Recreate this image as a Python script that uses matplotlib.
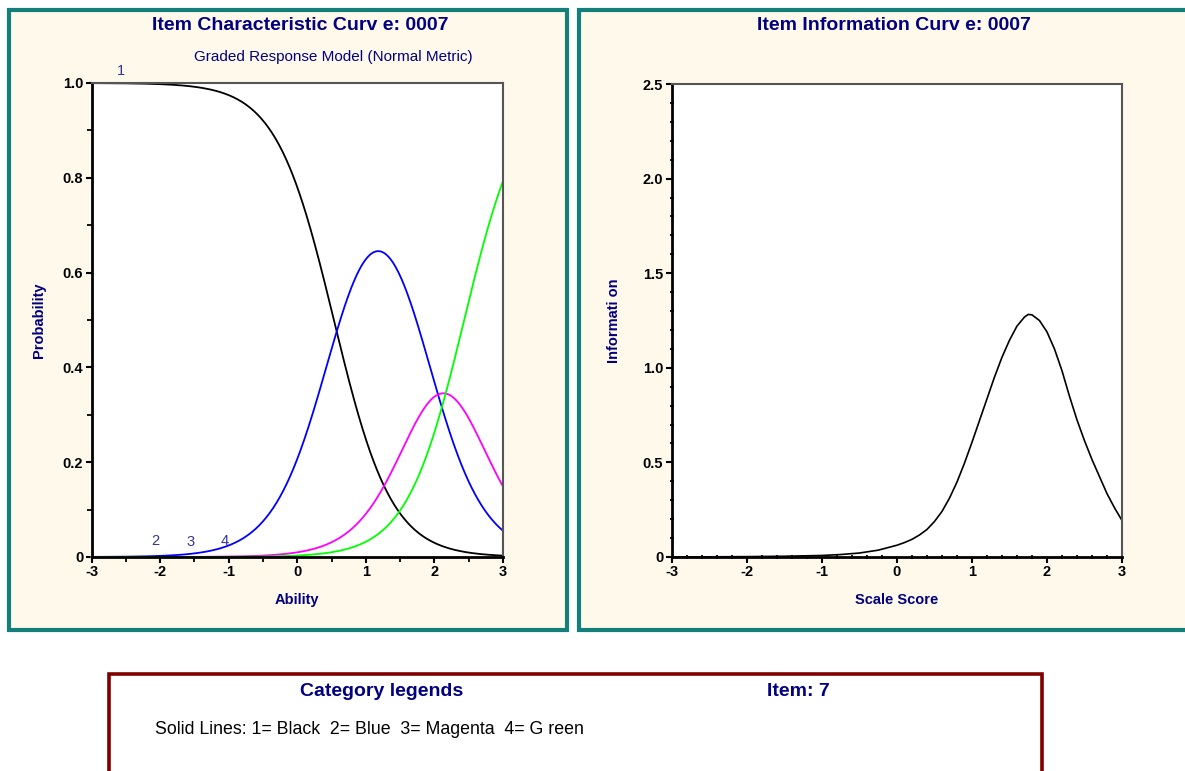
import numpy as np
import matplotlib
matplotlib.use("Agg")
import matplotlib.pyplot as plt
from matplotlib.patches import Rectangle
from matplotlib.ticker import MultipleLocator, FixedLocator, FixedFormatter

plt.rcParams['font.family'] = ['Liberation Sans', 'DejaVu Sans']

# ---- item 0007: graded response model parameters (logistic, D = 1.7) ----
D = 1.7
slope = 1.396
thresholds = [0.534, 1.827, 2.434]
category_names = ["1", "2", "3", "4"]
category_colors = ["black", "#0000FF", "#FF00FF", "#00FF00"]
category_label_pos = [(-2.57, 1.01), (-2.07, 0.018), (-1.56, 0.016), (-1.06, 0.018)]

# ---- item information curve ----
info_theta = [-3.0, -2.5, -2.0, -1.5, -1.0, -0.75, -0.5, -0.25,
              0.0, 0.1, 0.2, 0.3, 0.4, 0.5, 0.6, 0.7, 0.8, 0.9, 1.0,
              1.1, 1.2, 1.3, 1.4, 1.5, 1.6, 1.7, 1.75, 1.8, 1.9, 2.0,
              2.1, 2.2, 2.3, 2.4, 2.5, 2.6, 2.7, 2.8, 2.9, 3.0]
info_value = [0.000, 0.001, 0.002, 0.004, 0.008, 0.013, 0.021, 0.036,
              0.062, 0.076, 0.093, 0.116, 0.145, 0.187, 0.240, 0.310, 0.395, 0.495, 0.605,
              0.720, 0.835, 0.950, 1.055, 1.145, 1.220, 1.268, 1.282, 1.280, 1.250, 1.190,
              1.100, 0.985, 0.850, 0.725, 0.615, 0.515, 0.425, 0.335, 0.260, 0.193]

x_ticks = [-3, -2, -1, 0, 1, 2, 3]
icc_y_ticks = [0, 0.2, 0.4, 0.6, 0.8, 1.0]
icc_y_labels = ["0", "0.2", "0.4", "0.6", "0.8", "1.0"]
iic_y_ticks = [0, 0.5, 1.0, 1.5, 2.0, 2.5]
iic_y_labels = ["0", "0.5", "1.0", "1.5", "2.0", "2.5"]

NAVY = "#000080"
TEAL = "#137E7A"
CREAM = "#FFF9EC"
W, H = 1185, 771

fig = plt.figure(figsize=(W / 100, H / 100), dpi=100)
fig.patch.set_facecolor("white")


def fx(px):
    return px / W


def fy(py):
    return 1 - py / H


def frame(x0, y0, x1, y1, face, edge, lw):
    fig.patches.append(Rectangle((fx(x0), fy(y1)), fx(x1) - fx(x0), fy(y0) - fy(y1),
                                 transform=fig.transFigure, facecolor=face,
                                 edgecolor=edge, linewidth=lw, zorder=-5))


# panel backgrounds
frame(9, 10, 567, 630, CREAM, TEAL, 3.0)
frame(579, 10, 1200, 630, CREAM, TEAL, 3.0)
frame(109, 674, 1042, 790, "white", "#800000", 2.6)


def style_axes(ax, yticks, ylabels, xminor, yminor, minor_dir):
    ax.set_zorder(5)
    ax.set_facecolor("white")
    ax.set_xlim(-3, 3)
    for s in ("left", "bottom"):
        ax.spines[s].set_linewidth(2.0)
        ax.spines[s].set_color("black")
    for s in ("top", "right"):
        ax.spines[s].set_linewidth(1.5)
        ax.spines[s].set_color("#555555")
    ax.xaxis.set_major_locator(FixedLocator(x_ticks))
    ax.xaxis.set_major_formatter(FixedFormatter([str(t) for t in x_ticks]))
    ax.yaxis.set_major_locator(FixedLocator(yticks))
    ax.yaxis.set_major_formatter(FixedFormatter(ylabels))
    ax.xaxis.set_minor_locator(MultipleLocator(xminor))
    ax.yaxis.set_minor_locator(MultipleLocator(yminor))
    ax.tick_params(which="major", direction="out", length=4.5, width=1.5,
                   labelsize=10.5, pad=1.5)
    ax.tick_params(which="minor", direction=minor_dir, length=3.5, width=1.3)
    for lab in ax.get_xticklabels() + ax.get_yticklabels():
        lab.set_fontweight("bold")


# ---- item characteristic curves ----
ax1 = fig.add_axes([fx(91.5), fy(557), fx(503) - fx(91.5), fy(83) - fy(557)])
theta = np.linspace(-3, 3, 601)
cum = [np.ones_like(theta)]
for b in thresholds:
    cum.append(1.0 / (1.0 + np.exp(-D * slope * (theta - b))))
cum.append(np.zeros_like(theta))
for k, color in enumerate(category_colors):
    ax1.plot(theta, cum[k] - cum[k + 1], color=color, lw=1.3, clip_on=False)
ax1.set_ylim(0, 1.0)
style_axes(ax1, icc_y_ticks, icc_y_labels, 0.5, 0.1, "out")
for name, (tx, ty) in zip(category_names, category_label_pos):
    ax1.text(tx, ty, name, color="#333399", fontsize=10.5, ha="center", va="bottom",
             clip_on=False)
ax1.set_xlabel("Ability", color=NAVY, fontweight="bold", fontsize=10.5, labelpad=10)
ax1.set_ylabel("Probability", color=NAVY, fontweight="bold", fontsize=10.5, labelpad=12)

fig.text(fx(300), fy(25), "Item Characteristic Curv e: 0007", color=NAVY,
         fontweight="bold", fontsize=14, ha="center", va="center")
fig.text(fx(333), fy(57), "Graded Response Model (Normal Metric)", color=NAVY,
         fontsize=11, ha="center", va="center")

# ---- item information curve ----
ax2 = fig.add_axes([fx(671.7), fy(557), fx(1122) - fx(671.7), fy(84) - fy(557)])
ax2.plot(info_theta, info_value, color="black", lw=1.2, solid_joinstyle="round")
ax2.set_ylim(0, 2.5)
style_axes(ax2, iic_y_ticks, iic_y_labels, 0.2, 0.1, "inout")
ax2.set_xlabel("Scale Score", color=NAVY, fontweight="bold", fontsize=10.5, labelpad=10)
ax2.set_ylabel("Informati on", color=NAVY, fontweight="bold", fontsize=10.5, labelpad=16)

fig.text(fx(894), fy(25), "Item Information Curv e: 0007", color=NAVY,
         fontweight="bold", fontsize=14, ha="center", va="center")

# ---- legend box ----
fig.text(fx(382), fy(691), "Category legends", color=NAVY, fontweight="bold",
         fontsize=14, ha="center", va="center")
fig.text(fx(798), fy(691), "Item: 7", color=NAVY, fontweight="bold",
         fontsize=14, ha="center", va="center")
fig.text(fx(155), fy(729), "Solid Lines: 1= Black  2= Blue  3= Magenta  4= G reen",
         color="black", fontsize=12.8, ha="left", va="center")

fig.savefig("out.png", dpi=100)
